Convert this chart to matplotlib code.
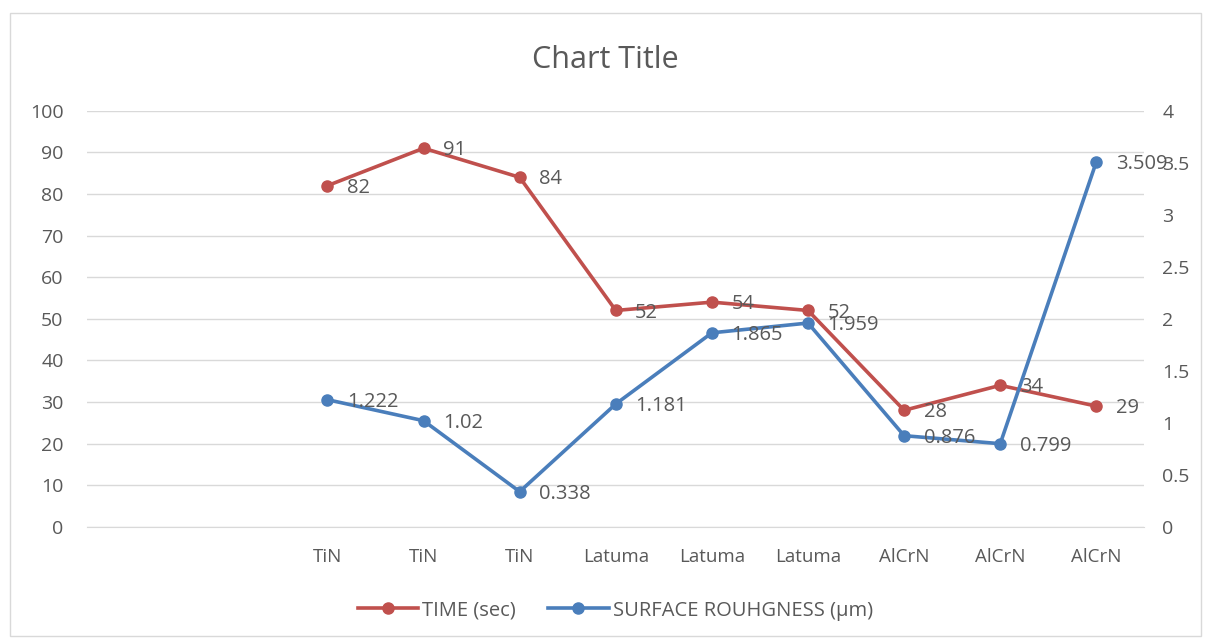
import numpy as np
import matplotlib.pyplot as plt
from matplotlib.patches import Rectangle

plt.rcParams['font.family'] = ['Open Sans', 'DejaVu Sans']

# two leading empty categories, like the source sheet
categories = ["", "", "TiN", "TiN", "TiN", "Latuma", "Latuma", "Latuma",
              "AlCrN", "AlCrN", "AlCrN"]
time_sec = [None, None, 82, 91, 84, 52, 54, 52, 28, 34, 29]
roughness = [None, None, 1.222, 1.02, 0.338, 1.181, 1.865, 1.959, 0.876, 0.799, 3.509]
roughness_labels = ["1.222", "1.02", "0.338", "1.181", "1.865", "1.959", "0.876", "0.799", "3.509"]

red = "#C0504D"
blue = "#4A7EBB"
txt = "#595959"

fig = plt.figure(figsize=(12.11, 6.44), dpi=100)
ax = fig.add_axes([0.072, 0.182, 0.873, 0.646])
ax2 = ax.twinx()

x = np.arange(len(categories))
tx = [i for i, v in enumerate(time_sec) if v is not None]
ty = [v for v in time_sec if v is not None]
rx = [i for i, v in enumerate(roughness) if v is not None]
ry = [v for v in roughness if v is not None]

l1, = ax.plot(tx, ty, color=red, lw=2.6, marker="o", ms=8, label="TIME (sec)", zorder=3)
l2, = ax2.plot(rx, ry, color=blue, lw=2.6, marker="o", ms=8, label="SURFACE ROUHGNESS (µm)", zorder=3)

for xi, yi in zip(tx, ty):
    ax.annotate(str(yi), (xi, yi), xytext=(14, -1.5), textcoords="offset points",
                va="center", ha="left", fontsize=14.5, color=txt)
for xi, yi, s in zip(rx, ry, roughness_labels):
    ax2.annotate(s, (xi, yi), xytext=(14, -1.5), textcoords="offset points",
                 va="center", ha="left", fontsize=14.5, color=txt)

ax.set_xlim(-0.5, len(categories) - 0.5)
ax.set_ylim(0, 100)
ax2.set_ylim(0, 4)
ax.set_yticks(range(0, 101, 10))
ax2.set_yticks(np.arange(0, 4.01, 0.5))
ax2.set_yticklabels(["0", "0.5", "1", "1.5", "2", "2.5", "3", "3.5", "4"])
ax.set_xticks(x)
ax.set_xticklabels(categories)

ax.grid(axis="y", color="#D9D9D9", lw=1)
ax.set_axisbelow(True)
for a in (ax, ax2):
    for s in a.spines.values():
        s.set_visible(False)
    a.tick_params(length=0, labelsize=14, labelcolor=txt)
ax.spines["bottom"].set_visible(True)
ax.spines["bottom"].set_color("#D9D9D9")
ax.tick_params(axis="y", pad=17)
ax.tick_params(axis="x", pad=15, labelsize=13.5)
ax2.tick_params(axis="y", pad=13)

fig.text(0.5, 0.907, "Chart Title", ha="center", va="center", fontsize=22, color=txt)
fig.legend(handles=[l1, l2], loc="center", bbox_to_anchor=(0.508, 0.052), ncol=2,
           frameon=False, fontsize=14.5, labelcolor=txt, handlelength=3.0,
           handletextpad=0.2, columnspacing=1.6)

fig.patches.append(Rectangle((0.008, 0.012), 0.984, 0.968, transform=fig.transFigure,
                             fill=False, edgecolor="#D9D9D9", lw=1))

fig.savefig("out.png", dpi=100)
